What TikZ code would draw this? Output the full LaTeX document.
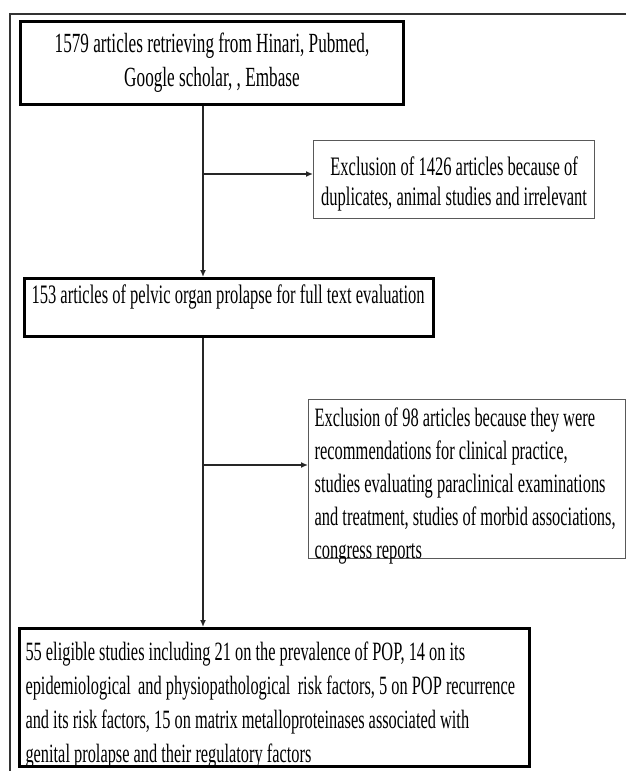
\documentclass[tikz,border=0pt]{standalone}
\usepackage{fontspec}
\setmainfont{Liberation Serif}[FakeStretch=0.62]
\usetikzlibrary{arrows.meta}
\newdimen\pxu \pxu=0.75pt
\newcommand\oneline[1]{\mbox{#1}}
\begin{document}
\begin{tikzpicture}[x=0.75pt,y=-0.75pt,
  thickbox/.style={draw=black, line width=2.25pt, inner sep=0pt, anchor=north west},
  thinbox/.style={draw=black!65, line width=0.9pt, inner sep=0pt, anchor=north west},
  arr/.style={line width=1.1pt, draw=black!85, -{Latex[length=5.25pt,width=4.5pt]}},
  frame/.style={line width=1.5pt, draw=black!80}]
\useasboundingbox (0,0) rectangle (626,771);
\draw[frame] (626,14) -- (10,14) -- (10,771);

\node[thickbox] (b1) at (19,20) {\parbox[c][83\pxu][c]{383\pxu}{\centering\fontsize{20.8}{25.5}\selectfont \oneline{1579 articles retrieving from Hinari, Pubmed,}\\ \oneline{Google scholar, , Embase}}};

\node[thinbox] (e1) at (313,140) {\parbox[c][78\pxu][t]{281\pxu}{\centering\fontsize{20}{22.5}\selectfont\rule{0pt}{35\pxu}\oneline{Exclusion of 1426 articles because of}\\ \oneline{duplicates, animal studies and irrelevant}}};

\node[thickbox] (b2) at (23,277) {\parbox[c][58\pxu][t]{409\pxu}{\raggedright\leftskip=7\pxu\fontsize{20}{25.5}\selectfont\rule{0pt}{25\pxu}\oneline{153 articles of pelvic organ prolapse for full text evaluation}}};

\node[thinbox] (e2) at (308,399) {\parbox[c][159\pxu][t]{317\pxu}{\raggedright\leftskip=6\pxu\fontsize{19.9}{24.7}\selectfont\rule{0pt}{27\pxu}\oneline{Exclusion of 98 articles because they were}\\ \oneline{recommendations for clinical practice,}\\ \oneline{studies evaluating paraclinical examinations}\\ \oneline{and treatment, studies of morbid associations,}\\ \oneline{congress reports}}};

\node[thickbox] (b3) at (18,627) {\parbox[c][138\pxu][t]{510\pxu}{\raggedright\leftskip=6\pxu\fontsize{19.8}{25.5}\selectfont\rule{0pt}{32\pxu}\oneline{55 eligible studies including 21 on the prevalence of POP, 14 on its}\\ \oneline{epidemiological\hspace{0.12em} and physiopathological\hspace{0.12em} risk factors, 5 on POP recurrence}\\ \oneline{and its risk factors, 15 on matrix metalloproteinases associated with}\\ \oneline{genital prolapse and their regulatory factors}}};

\coordinate (t1) at (203,174);
\coordinate (t2) at (203,465);
\draw[arr] (b1.south -| t1) -- (b2.north -| t1);
\draw[arr] (t1) -- (t1 -| e1.west);
\draw[arr] (b2.south -| t2) -- (b3.north -| t2);
\draw[arr] (t2) -- (t2 -| e2.west);
\end{tikzpicture}
\end{document}
